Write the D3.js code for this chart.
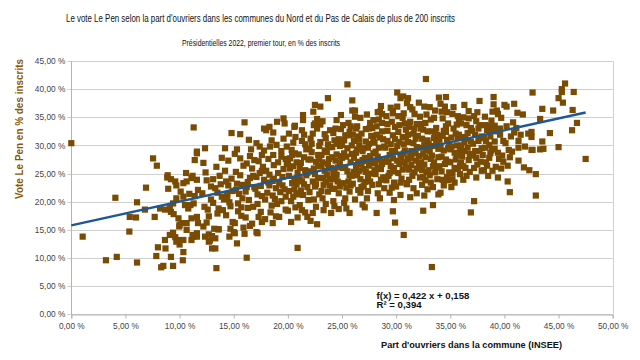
<!DOCTYPE html>
<html><head><meta charset="utf-8">
<script src="https://cdn.jsdelivr.net/npm/d3@7"></script>
<style>body{margin:0;background:#fff} svg{display:block}</style>
</head><body>
<svg id="c" width="640" height="360"></svg>
<script>
const chartTitle = "Le vote Le Pen selon la part d'ouvriers dans les communes du Nord et du Pas de Calais de plus de 200 inscrits";
const chartSubtitle = "Présidentielles 2022, premier tour, en % des inscrits";
const xTitle = "Part d'ouvriers dans la commune (INSEE)";
const yTitle = "Vote Le Pen en % des inscrits";
const xTicks = [0, 5, 10, 15, 20, 25, 30, 35, 40, 45, 50];
const yTicks = [0, 5, 10, 15, 20, 25, 30, 35, 40, 45];
const trendCoef = [0.422, 15.8];   // slope, intercept (in %)
const trendLabels = ["f(x) = 0,422 x + 0,158", "R² = 0,394"];

// [part d'ouvriers %, vote Le Pen %]
const communes = [
[0.0,30.4],[1.05,13.8],[3.2,9.6],[4.2,10.2],[4.07,20.7],[5.4,17.3],[5.98,17.2],[5.36,14.7],[6.07,19.9],[6.07,9.2],[6.9,22.5],[6.8,18.6],[7.55,27.7],[7.9,26.4],[7.7,17.3],[7.85,10.35],[8.0,11.9],[8.2,18.8],[8.65,18.6],[8.65,13.2],[8.7,11.7],[8.3,8.35],[8.5,8.6],[8.86,24.3],[8.9,24.7],[8.95,22.3],[9.1,19.0],[9.2,18.2],[9.45,17.8],[9.9,17.05],[9.2,24.0],[9.6,23.6],[9.7,22.9],[9.4,14.5],[9.1,14.1],[9.6,13.7],[9.9,13.2],[9.2,10.2],[9.4,8.6],[9.97,15.6],[9.4,19.7],[9.7,20.6],
[10.35,20.9],[10.5,19.4],[10.8,18.8],[11.0,19.4],[11.3,19.7],[11.6,17.3],[11.7,16.2],[11.1,17.05],[10.65,16.2],[10.2,16.2],[10.0,15.9],[10.35,13.2],[10.65,15.0],[11.3,13.8],[11.6,14.4],[11.1,13.2],[10.35,11.05],[10.3,9.6],[10.0,12.4],[9.7,12.9],[11.3,33.2],[11.6,28.9],[11.4,27.4],[10.35,23.3],[10.65,23.6],[11.1,24.2],[11.6,23.9],[11.7,22.1],[11.2,24.6],[11.2,14.1],[11.6,13.8],[11.6,28.6],[10.9,21.4],[11.4,21.0],[10.6,25.1],[10.1,21.8],
[13.4,8.2],[13.0,11.7],[13.3,13.5],[12.35,13.8],[12.7,12.9],[13.6,15.1],[15.0,14.6],[15.1,14.4],[15.3,12.6],[16.0,14.3],[17.2,14.4],[17.1,14.6],[17.6,16.4],[18.6,16.2],[22.7,16.0],[22.1,16.6],
[12.1,21.5],[12.3,19.1],[12.5,23.8],[12.7,17.4],[12.2,15.6],[12.9,20.4],[12.4,25.2],[12.8,13.1],[12.6,18.6],[12.35,29.5],[12.2,26.9],[12.9,22.7],[12.5,16.3],[12.7,14.2],
[13.1,19.8],[13.3,22.4],[13.5,17.9],[13.7,24.6],[13.2,15.2],[13.9,20.9],[13.4,26.2],[13.6,18.8],[13.8,23.1],[13.0,13.9],[13.5,21.6],[13.3,11.7],[13.6,15.1],[13.9,27.8],[13.1,24.0],
[14.1,20.4],[14.3,17.6],[14.5,22.9],[14.7,19.2],[14.2,25.5],[14.9,16.4],[14.4,21.3],[14.6,13.8],[14.8,24.1],[14.0,18.5],[14.5,27.3],[14.2,29.5],[14.7,15.2],[14.9,21.9],[14.3,23.6],[14.6,19.9],[14.8,32.2],
[15.1,28.5],[15.3,29.3],[15.6,32.0],[15.2,22.1],[15.4,18.3],[15.6,24.7],[15.8,20.6],[15.1,16.2],[15.9,26.4],[15.5,21.4],[15.7,17.5],[15.2,25.3],[15.8,23.0],[15.4,19.7],[15.9,15.4],[15.6,27.7],
[16.0,34.1],[16.2,10.05],[16.5,28.1],[16.1,21.8],[16.3,18.9],[16.5,24.2],[16.7,16.1],[16.9,22.6],[16.2,26.8],[16.4,20.3],[16.6,29.3],[16.8,19.1],[16.3,23.5],[16.7,25.9],[16.1,17.2],[16.9,27.4],[16.5,15.7],[16.4,31.0],
[17.1,30.4],[17.4,29.8],[17.6,28.3],[17.8,33.0],[17.0,22.3],[17.2,19.6],[17.4,25.1],[17.6,21.0],[17.8,23.9],[17.3,27.2],[17.5,18.2],[17.7,26.2],[17.9,20.4],[17.1,24.4],[17.3,17.3],[17.8,29.1],[17.5,22.8],[17.9,16.9],
[18.3,33.3],[18.65,32.3],[18.0,32.7],[18.35,29.8],[18.65,28.3],[18.1,21.6],[18.3,24.8],[18.5,19.3],[18.7,26.5],[18.9,22.4],[18.2,27.6],[18.4,18.1],[18.6,23.7],[18.8,20.5],[18.0,25.5],[18.5,30.9],[18.9,17.4],[18.3,22.9],[18.7,24.1],
[19.0,34.2],[19.6,34.8],[19.7,33.9],[18.95,30.1],[19.4,28.0],[19.9,29.8],[19.2,23.3],[19.4,20.1],[19.6,25.8],[19.8,18.6],[19.1,27.0],[19.3,21.7],[19.5,24.4],[19.7,22.2],[19.9,26.7],[19.2,17.3],[19.6,31.2],[19.8,20.9],[19.4,29.0],[19.0,19.6],
[20.6,33.3],[20.1,32.1],[20.7,31.5],[20.65,33.5],[20.35,29.2],[20.65,28.6],[20.9,11.8],[20.9,17.2],[20.6,22.2],[20.1,24.6],[20.3,20.1],[20.5,26.3],[20.7,19.0],[20.9,25.1],[20.2,27.7],[20.4,23.3],[20.8,21.5],[20.0,18.4],[20.5,30.5],[20.3,16.4],[20.8,27.0],[20.1,21.9],
[21.4,35.4],[21.4,34.5],[21.3,32.7],[21.6,18.1],[21.3,18.5],[21.4,21.2],[21.1,24.0],[21.2,26.9],[21.5,23.1],[21.7,29.3],[21.9,20.3],[21.0,28.4],[21.6,25.6],[21.8,22.6],[21.3,30.8],[21.9,27.5],[21.1,19.4],[21.7,24.7],[21.5,31.9],[21.8,17.3],[21.2,22.0],
[22.35,36.0],[22.7,34.7],[22.4,33.6],[22.5,37.2],[22.5,33.9],[22.7,33.0],[22.5,22.7],[22.0,25.4],[22.2,28.8],[22.4,20.4],[22.6,27.1],[22.8,24.2],[22.1,31.2],[22.3,23.6],[22.9,29.9],[22.6,19.1],[22.0,21.7],[22.8,26.3],[22.2,30.3],[22.4,25.9],[22.9,21.3],[22.3,18.0],
[23.0,36.9],[23.0,33.7],[23.7,38.4],[23.3,18.5],[23.3,23.0],[23.7,21.8],[23.9,32.7],[23.1,26.4],[23.4,29.1],[23.6,24.8],[23.8,27.6],[23.2,20.6],[23.5,31.3],[23.9,22.9],[23.1,28.3],[23.4,25.5],[23.7,30.2],[23.2,34.3],[23.5,19.6],[23.8,25.9],[23.6,28.8],[23.3,24.2],[23.0,30.6],
[24.0,18.0],[24.9,35.4],[24.1,22.3],[24.3,25.7],[24.5,28.4],[24.7,31.1],[24.2,20.1],[24.4,33.0],[24.6,23.6],[24.8,26.9],[24.1,29.7],[24.3,19.2],[24.5,24.8],[24.7,21.5],[24.9,28.1],[24.2,32.2],[24.6,30.4],[24.4,27.3],[24.8,22.7],[24.0,26.0],[24.5,34.5],[24.7,18.7],[24.3,30.9],
[25.5,40.85],[25.7,18.0],[25.4,18.8],[25.2,19.8],[25.1,23.3],[25.7,21.8],[25.95,38.0],[25.95,36.2],[25.3,26.1],[25.5,29.5],[25.7,32.4],[25.9,24.6],[25.0,27.8],[25.2,30.9],[25.4,22.5],[25.6,34.0],[25.8,27.0],[25.1,33.6],[25.3,20.6],[25.9,30.0],[25.5,25.4],[25.2,28.6],[25.8,22.9],[25.6,31.8],
[26.2,36.2],[26.5,22.1],[26.1,25.3],[26.3,28.7],[26.5,31.6],[26.7,24.0],[26.9,27.4],[26.2,20.4],[26.4,33.4],[26.6,29.9],[26.8,22.6],[26.1,30.8],[26.3,26.2],[26.7,34.9],[26.9,19.5],[26.5,27.1],[26.0,23.2],[26.4,29.3],[26.8,32.1],[26.6,25.5],[26.2,35.1],
[27.3,20.6],[27.9,34.5],[27.1,23.5],[27.3,27.2],[27.5,30.3],[27.7,25.0],[27.9,28.6],[27.2,32.9],[27.4,21.9],[27.6,34.0],[27.8,23.0],[27.0,29.5],[27.5,26.4],[27.7,31.7],[27.1,19.0],[27.9,26.8],[27.3,35.5],[27.6,28.1],[27.4,24.2],[27.8,33.1],[27.2,30.7],[27.0,25.8],
[28.2,18.0],[28.5,20.6],[28.3,21.5],[28.3,35.9],[28.7,35.6],[28.1,24.9],[28.3,28.0],[28.5,31.4],[28.7,26.7],[28.9,29.8],[28.2,33.4],[28.4,23.1],[28.6,37.0],[28.8,24.3],[28.0,30.5],[28.5,27.5],[28.7,32.5],[28.9,22.4],[28.4,34.6],[28.1,28.9],[28.6,25.8],[28.8,31.1],[28.3,26.0],
[29.9,16.3],[29.7,18.3],[29.8,20.3],[29.7,36.1],[29.7,35.7],[29.1,23.8],[29.3,27.1],[29.5,30.2],[29.7,25.4],[29.9,28.9],[29.2,32.6],[29.4,21.6],[29.6,34.2],[29.8,23.4],[29.0,29.6],[29.5,26.3],[29.7,31.8],[29.1,35.2],[29.3,24.6],[29.9,33.3],[29.4,28.3],[29.6,22.5],[29.2,30.8],[29.8,26.0],
[30.1,39.4],[30.4,38.4],[30.1,36.9],[30.7,35.7],[30.0,22.7],[30.7,14.1],[30.95,23.3],[30.65,38.7],[30.2,25.1],[30.4,28.4],[30.6,31.5],[30.8,27.0],[30.1,29.9],[30.3,33.6],[30.5,24.1],[30.7,30.2],[30.9,26.0],[30.2,32.4],[30.4,21.2],[30.6,34.9],[30.8,29.1],[30.3,26.7],[30.9,32.8],[30.5,27.8],
[31.1,38.4],[31.0,37.5],[31.3,20.8],[31.0,23.1],[31.9,21.5],[31.2,25.7],[31.4,29.0],[31.6,32.1],[31.8,27.3],[31.1,30.6],[31.3,34.2],[31.5,24.6],[31.7,35.6],[31.9,29.7],[31.2,33.3],[31.4,26.5],[31.6,22.4],[31.8,31.2],[31.3,28.1],[31.5,36.4],[31.7,25.2],[31.9,33.8],[31.1,27.6],
[32.2,24.3],[32.5,24.4],[32.5,18.4],[32.6,21.1],[32.75,41.8],[32.1,26.4],[32.3,29.6],[32.5,32.8],[32.7,27.9],[32.9,30.9],[32.2,35.1],[32.4,23.0],[32.6,36.9],[32.8,25.3],[32.0,31.7],[32.5,28.5],[32.7,34.0],[32.9,22.2],[32.3,33.0],[32.1,37.6],[32.6,26.6],[32.8,29.2],[32.4,31.2],
[33.3,8.4],[33.4,19.4],[33.95,38.5],[33.1,24.7],[33.3,28.2],[33.5,31.3],[33.7,26.1],[33.9,29.4],[33.2,34.6],[33.4,22.6],[33.6,36.2],[33.8,24.0],[33.0,30.3],[33.5,27.0],[33.7,33.1],[33.9,21.3],[33.3,32.5],[33.1,36.8],[33.6,25.2],[33.8,31.9],[33.4,29.9],[33.2,27.6],
[34.6,38.6],[34.1,37.4],[34.1,21.6],[34.8,27.1],[34.2,25.4],[34.4,29.1],[34.6,32.4],[34.8,23.8],[34.0,31.0],[34.3,34.8],[34.5,26.7],[34.7,35.9],[34.9,30.2],[34.2,28.0],[34.4,22.9],[34.6,33.4],[34.8,29.5],[34.0,26.3],[34.3,31.7],[34.7,24.4],[34.5,36.9],
[35.4,26.0],[35.1,29.8],[35.3,33.0],[35.5,27.5],[35.7,31.3],[35.9,24.9],[35.2,35.6],[35.4,23.4],[35.6,30.0],[35.8,34.3],[35.0,27.0],[35.5,32.1],[35.7,25.8],[35.9,29.1],[35.3,36.8],[35.1,22.6],[35.6,28.3],[35.8,31.9],[35.2,25.1],
[36.3,37.2],[36.0,26.9],[36.2,23.9],[36.8,25.3],[36.9,18.1],[36.1,31.5],[36.3,29.0],[36.5,33.6],[36.7,27.4],[36.9,30.7],[36.2,35.0],[36.4,26.0],[36.6,32.2],[36.8,28.5],[36.0,33.9],[36.5,24.6],[36.7,36.1],[36.3,30.6],
[37.2,20.1],[37.7,37.9],[37.1,28.2],[37.3,31.9],[37.5,26.6],[37.7,33.6],[37.9,29.5],[37.2,35.2],[37.4,24.3],[37.6,30.8],[37.8,27.1],[37.0,32.6],[37.5,35.9],[37.9,25.5],[37.3,29.0],[37.7,31.3],
[38.1,25.6],[38.9,25.5],[38.2,29.6],[38.4,32.7],[38.6,27.8],[38.8,34.4],[38.3,30.8],[38.5,24.6],[38.7,31.6],[38.0,28.3],[38.9,36.0],[38.4,26.4],[38.6,33.5],[38.2,35.1],[38.8,29.1],
[39.0,38.6],[39.0,37.3],[39.4,24.3],[39.7,25.9],[39.1,29.4],[39.3,32.5],[39.5,27.6],[39.7,34.9],[39.9,30.8],[39.2,26.2],[39.6,31.9],[39.8,28.2],[39.4,35.6],[39.1,33.5],
[40.0,37.2],[40.2,36.9],[40.9,37.4],[40.5,27.9],[40.1,30.4],[40.3,23.6],[40.5,21.7],[40.2,33.4],[40.4,29.2],[40.6,31.6],[40.8,34.1],[40.7,28.9],[40.3,26.4],[40.9,32.3],
[41.7,35.5],[41.3,30.8],[41.3,29.6],[41.3,27.3],[41.8,26.1],[41.1,33.1],[41.5,31.9],[41.9,29.8],[41.2,35.8],
[42.2,32.1],[42.5,31.5],[42.5,32.4],[42.3,25.6],[42.9,24.9],[42.6,39.4],[42.9,21.1],[42.6,29.2],[42.5,29.2],[43.3,29.3],[43.6,29.4],[43.5,30.7],[43.5,36.5],[43.3,34.7],[44.2,32.2],[44.5,36.2],[45.0,29.7],[45.0,38.4],[45.4,37.6],[45.6,41.0],[45.3,40.0],[45.3,39.5],[46.4,39.5],[46.3,36.3],[46.7,34.0],[46.25,32.7],[47.5,27.6],
[20.2,25.9],[20.6,24.0],[20.4,28.3],[20.8,23.1],[20.0,26.8],[20.5,20.9],
[21.1,26.0],[21.5,27.9],[21.8,25.1],[21.3,23.6],[21.6,30.2],[21.0,21.3],
[22.1,27.5],[22.5,24.9],[22.8,28.3],[22.3,32.1],[22.6,23.1],[22.9,27.6],[22.0,29.4],
[23.2,27.0],[23.5,23.5],[23.8,29.7],[23.4,32.0],[23.1,21.9],[23.7,26.7],[23.9,24.0],
[24.1,27.9],[24.4,24.0],[24.6,26.1],[24.8,29.9],[24.3,22.3],[24.9,32.9],[24.5,30.3],[24.2,24.9],
[25.1,26.0],[25.4,28.0],[25.7,24.7],[25.9,28.5],[25.3,31.8],[25.6,23.6],[25.0,30.1],[25.8,33.4],
[26.1,27.8],[26.4,24.7],[26.6,31.0],[26.9,29.0],[26.3,33.0],[26.7,21.6],[26.0,31.9],[26.8,26.6],
[27.1,27.8],[27.4,29.6],[27.6,23.6],[27.9,31.2],[27.2,25.3],[27.7,27.3],[27.5,33.0],[27.0,22.8],
[28.1,27.0],[28.4,29.6],[28.6,23.9],[28.9,27.1],[28.2,31.9],[28.7,34.0],[28.0,25.6],[28.5,36.0],
[29.1,27.4],[29.4,25.1],[29.6,29.0],[29.9,31.1],[29.2,33.8],[29.7,27.7],[29.0,24.3],[29.5,36.7],
[30.1,27.3],[30.3,30.6],[30.6,25.7],[30.9,31.4],[30.2,35.2],[30.7,28.6],[30.4,23.4],[30.8,33.9],
[31.1,31.9],[31.4,27.7],[31.6,30.4],[31.9,25.9],[31.2,23.9],[31.7,33.0],[31.3,36.8],[31.8,28.6],
[32.1,28.1],[32.4,25.6],[32.6,30.2],[32.9,32.5],[32.2,33.8],[32.7,23.8],[32.3,27.0],[32.8,35.5],
[33.1,29.0],[33.4,26.3],[33.6,32.1],[33.9,27.9],[33.2,23.4],[33.7,30.6],[33.5,34.9],[33.0,25.6],
[34.1,29.9],[34.4,32.6],[34.6,27.5],[34.9,25.2],[34.2,36.0],[34.7,31.0],[34.3,23.9],[34.8,33.9],
[35.1,31.4],[35.4,28.7],[35.6,33.7],[35.9,26.4],[35.2,24.0],[35.7,35.2],[35.0,29.3],[35.8,28.5],
[36.1,28.0],[36.4,31.2],[36.6,29.6],[36.9,33.1],[36.2,26.3],[36.7,34.8],[36.0,30.0],
[37.1,30.3],[37.4,27.8],[37.6,33.0],[37.9,31.6],[37.2,26.0],[37.7,29.0],[37.4,34.3],
[38.1,31.3],[38.3,27.0],[38.6,30.1],[38.9,32.6],[38.2,33.6],[38.7,28.6],
[39.1,30.7],[39.4,28.7],[39.6,33.0],[39.9,27.1],[39.3,36.2],
[14.4,20.8],[15.3,23.2],[15.7,19.0],[16.2,22.6],[16.8,24.6],[17.2,21.3],[17.6,25.5],[18.2,23.4],[18.6,21.1],[19.1,25.1],[19.5,22.9],[19.8,27.6]
];

const svg = d3.select("#c");
const fmt = d => d3.format(".2f")(d).replace(".", ",") + " %";
const x = d3.scaleLinear().domain([0, 50]).range([71.3, 612.7]);
const y = d3.scaleLinear().domain([0, 45]).range([314.3, 61]);

// gridlines
svg.append("g").selectAll("line").data(yTicks).join("line")
  .attr("x1", x(0) - 4).attr("x2", x(50))
  .attr("y1", d => Math.round(y(d)) + 0.5).attr("y2", d => Math.round(y(d)) + 0.5)
  .attr("stroke", "#cfcfcf").attr("stroke-width", 1);
// right border
svg.append("line").attr("x1", Math.round(x(50)) + 0.5).attr("x2", Math.round(x(50)) + 0.5)
  .attr("y1", y(45)).attr("y2", y(0)).attr("stroke", "#cfcfcf");
// left axis line
svg.append("line").attr("x1", Math.round(x(0)) + 0.5).attr("x2", Math.round(x(0)) + 0.5)
  .attr("y1", y(45)).attr("y2", y(0)).attr("stroke", "#b3b3b3");
// x axis
const xa = svg.append("g").attr("transform", `translate(0,${Math.round(y(0)) + 0.5})`)
  .call(d3.axisBottom(x).tickValues(xTicks).tickFormat(fmt).tickSizeOuter(0).tickSize(4));
xa.select(".domain").attr("stroke", "#b3b3b3");
xa.selectAll(".tick line").attr("stroke", "#b3b3b3");
xa.selectAll("text").attr("font-family", "Liberation Sans, Arial, sans-serif").attr("font-size", 8.3).attr("fill", "#444").attr("dy", "0.9em");
// y axis labels
const ya = svg.append("g").attr("transform", `translate(${x(0) - 4},0)`)
  .call(d3.axisLeft(y).tickValues(yTicks).tickFormat(fmt).tickSize(0).tickPadding(2));
ya.select(".domain").remove();
ya.selectAll("text").attr("font-family", "Liberation Sans, Arial, sans-serif").attr("font-size", 8.3).attr("fill", "#444");

// points
svg.append("g").selectAll("rect").data(communes).join("rect")
  .attr("x", d => x(d[0]) - 3.1).attr("y", d => y(d[1]) - 3.1)
  .attr("width", 6.2).attr("height", 6.2)
  .attr("fill", "#7a4b02");

// trend line
const xmax = d3.max(communes, d => d[0]);
svg.append("line")
  .attr("x1", x(0)).attr("y1", y(trendCoef[1]))
  .attr("x2", x(xmax)).attr("y2", y(trendCoef[1] + trendCoef[0] * xmax))
  .attr("stroke", "#1b5895").attr("stroke-width", 2.4);

// equation
svg.append("g").selectAll("text").data(trendLabels).join("text")
  .attr("x", 376.5).attr("y", (d, i) => 298.5 + i * 9.5)
  .attr("font-family", "Liberation Sans, Arial, sans-serif").attr("font-size", 9.6).attr("font-weight", "bold")
  .attr("fill", "#111").text(d => d);

// titles
svg.append("text").attr("x", 260.5).attr("y", 21.5).attr("text-anchor", "middle")
  .attr("font-family", "Liberation Sans Narrow, Arial Narrow, Liberation Sans, sans-serif").attr("font-size", 11)
  .attr("textLength", 389).attr("lengthAdjust", "spacingAndGlyphs").attr("fill", "#111").text(chartTitle);
svg.append("text").attr("x", 261).attr("y", 45.5).attr("text-anchor", "middle")
  .attr("font-family", "Liberation Sans Narrow, Arial Narrow, Liberation Sans, sans-serif").attr("font-size", 9.3)
  .attr("textLength", 158).attr("lengthAdjust", "spacingAndGlyphs").attr("fill", "#111").text(chartSubtitle);
svg.append("text").attr("x", 471.5).attr("y", 347.5).attr("text-anchor", "middle")
  .attr("font-family", "Liberation Sans, Arial, sans-serif").attr("font-size", 9.6).attr("font-weight", "bold")
  .attr("textLength", 181).attr("lengthAdjust", "spacingAndGlyphs").attr("fill", "#111").text(xTitle);
svg.append("text").attr("transform", "translate(22.5,129) rotate(-90)").attr("text-anchor", "middle")
  .attr("font-family", "Liberation Sans, Arial, sans-serif").attr("font-size", 10.2).attr("font-weight", "bold")
  .attr("textLength", 140).attr("lengthAdjust", "spacingAndGlyphs").attr("fill", "#8a5700").text(yTitle);
</script>
</body></html>
